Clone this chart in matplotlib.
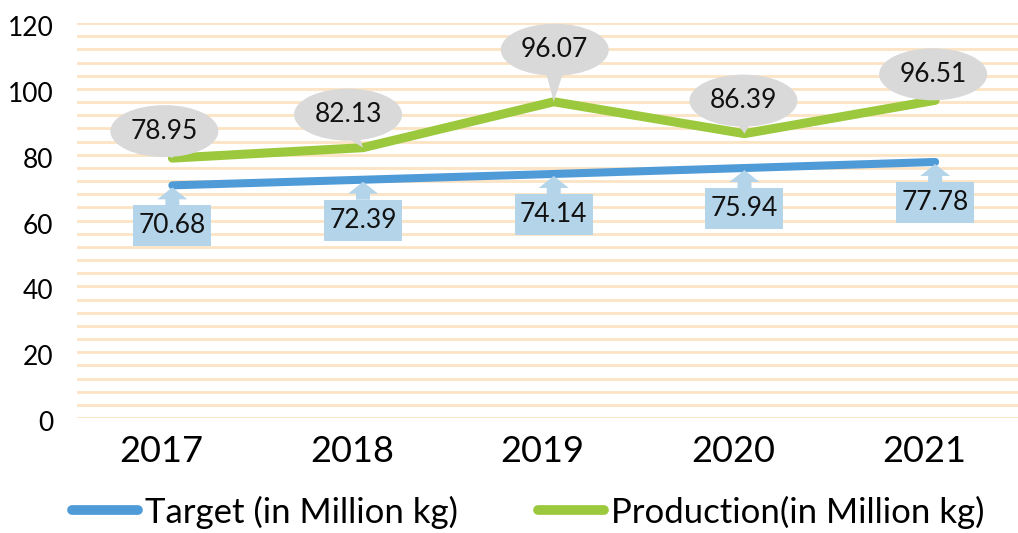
import numpy as np
import matplotlib
matplotlib.use('Agg')
import matplotlib.pyplot as plt
from matplotlib.patches import Ellipse, Rectangle, Polygon
from matplotlib.transforms import Affine2D, ScaledTranslation
from matplotlib.lines import Line2D

plt.rcParams['font.family'] = ['Lato', 'DejaVu Sans']

years = ['2017', '2018', '2019', '2020', '2021']
target = [70.68, 72.39, 74.14, 75.94, 77.78]
production = [78.95, 82.13, 96.07, 86.39, 96.51]

# callout placement, pixel offsets from the point (x, y up)
prod_offsets = [(-8, 27), (-15, 33), (1, 52), (-1, 33), (-2, 26)]

BLUE = '#4F9BD7'
GREEN = '#9BC83C'
GRID = '#FCE4C4'
GRAY = '#D9D9D9'
LBLUE = '#B4D4E9'

fig = plt.figure(figsize=(10.18, 5.33), dpi=100)
W, H = 1018, 533
ax = fig.add_axes([77 / W, 1 - 418 / H, (W - 77) / W, (418 - 23) / H])

x = np.arange(len(years))
ax.plot(x, target, color=BLUE, lw=5.8, solid_capstyle='round', zorder=3)
ax.plot(x, production, color=GREEN, lw=6.5, solid_capstyle='round', zorder=3)

ax.set_xlim(-0.5, -0.5 + (W - 77) / 190.7)
ax.set_ylim(0, 120)
ax.set_yticks(np.arange(0, 121, 20))
ax.set_yticks(np.arange(0, 121, 4), minor=True)
ax.grid(True, axis='y', which='both', color=GRID, lw=2)
ax.set_axisbelow(True)
ax.set_xticks(x)
ax.set_xticklabels(years, fontsize=26)
ax.tick_params(axis='x', length=0, pad=12)
ax.tick_params(axis='y', which='both', length=0, pad=17, labelsize=19)
for s in ax.spines.values():
    s.set_visible(False)
for lab in ax.get_xticklabels():
    lab.set_transform(lab.get_transform() + ScaledTranslation(-11 / 100, 0, fig.dpi_scale_trans))
for lab in ax.get_yticklabels():
    lab.set_transform(lab.get_transform() + ScaledTranslation(0, -3 / 100, fig.dpi_scale_trans))


def pix(xv, yv):
    return Affine2D() + ScaledTranslation(xv, yv, ax.transData)


# production callouts: gray ellipse with tail
for xi, v, (dx, dy) in zip(x, production, prod_offsets):
    tr = pix(xi, v)
    ew, eh = 108, 52
    ax.add_patch(Polygon([(0, 0), (dx - 10, dy - eh / 2 + 8), (dx + 10, dy - eh / 2 + 8)],
                         closed=True, fc=GRAY, ec='none', transform=tr, clip_on=False, zorder=4))
    ax.add_patch(Ellipse((dx, dy), ew, eh, fc=GRAY, ec='none', transform=tr,
                         clip_on=False, zorder=4))
    ax.text(dx, dy, f'{v:.2f}', transform=tr, ha='center', va='center',
            fontsize=19, color='#111111', zorder=5)

# target callouts: light blue box with up arrow
for xi, v in zip(x, target):
    tr = pix(xi, v)
    bw, bh, top = 78, 41, -20
    arrow = [(0, -2), (15, -14), (7, -14), (7, top), (-7, top), (-7, -14), (-15, -14)]
    ax.add_patch(Polygon(arrow, closed=True, fc=LBLUE, ec='none', transform=tr,
                         clip_on=False, zorder=4))
    ax.add_patch(Rectangle((-bw / 2, top - bh), bw, bh, fc=LBLUE, ec='none',
                           transform=tr, clip_on=False, zorder=4))
    ax.text(0, top - bh / 2, f'{v:.2f}', transform=tr, ha='center', va='center',
            fontsize=19, color='#111111', zorder=5)

handles = [Line2D([], [], color=BLUE, lw=7, solid_capstyle='round'),
           Line2D([], [], color=GREEN, lw=7, solid_capstyle='round')]
fig.legend(handles, ['Target (in Million kg)', 'Production(in Million kg)'],
           loc='center', bbox_to_anchor=(528 / W, 1 - 512 / H), ncol=2, frameon=False,
           fontsize=25, handlelength=1.9, handletextpad=0.2, columnspacing=2.3)

fig.savefig('out.png', dpi=100)
